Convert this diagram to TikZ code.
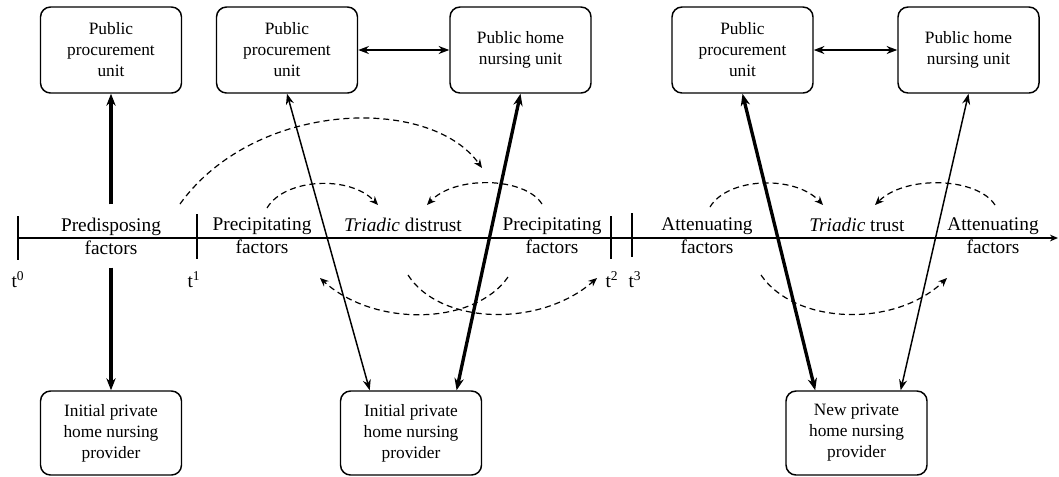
\documentclass[tikz,border=0pt]{standalone}
\usepackage{fontspec}
\setmainfont{Liberation Serif}
\usetikzlibrary{arrows.meta,calc}
\begin{document}
\begin{tikzpicture}[x=0.75pt,y=-0.75pt,
  box/.style={draw, line width=1.1pt, rounded corners=7.5pt, minimum width=105.75pt, minimum height=64.5pt, align=center, inner sep=1pt, font=\fontsize{13}{15.75}\selectfont},
  lowbox/.style={box, minimum height=63pt},
  lbl/.style={align=center, inner sep=0pt, font=\fontsize{14.5}{17.25}\selectfont},
  tlbl/.style={anchor=base, inner sep=0pt, font=\fontsize{14.5}{17.25}\selectfont},
  thinarrow/.style={line width=1.1pt, arrows={Stealth[length=8pt,width=6pt]-Stealth[length=8pt,width=6pt]}},
  thickarrow/.style={line width=2.5pt, arrows={Stealth[length=9pt,width=7pt]-Stealth[length=9pt,width=7pt]}},
  onearrow/.style={line width=2.5pt, arrows={-Stealth[length=9pt,width=7pt]}},
  dsh/.style={line width=0.9pt, dash pattern=on 4.5pt off 3pt, arrows={-Stealth[length=6.5pt,width=5.5pt]}},
  tick/.style={line width=1.1pt},
  axis/.style={line width=1.1pt, arrows={-Stealth[length=6pt,width=5pt]}}
]
\useasboundingbox (0,0) rectangle (1059,476);

% boxes
\node[box] (b1) at (111,50) {Public\\procurement\\unit};
\node[box] (b2) at (287,50) {Public\\procurement\\unit};
\node[box] (b3) at (520.5,50) {Public home\\nursing unit};
\node[box] (b4) at (742.5,50) {Public\\procurement\\unit};
\node[box] (b5) at (968.5,50) {Public home\\nursing unit};
\node[lowbox] (b6) at (111,433) {Initial private\\home nursing\\provider};
\node[lowbox] (b7) at (411,433) {Initial private\\home nursing\\provider};
\node[lowbox] (b8) at (856.5,433) {New private\\home nursing\\provider};

% time axis
\coordinate (ax0) at (18,238);
\coordinate (ax1) at (1058,238);
\draw[axis] (ax0) -- (ax1);
\coordinate (t0a) at (18,216); \coordinate (t0b) at (18,260);
\coordinate (t1a) at (197,214); \coordinate (t1b) at (197,259);
\coordinate (t2a) at (611,216); \coordinate (t2b) at (611,259);
\coordinate (t3a) at (632,213); \coordinate (t3b) at (632,257);
\draw[tick] (t0a) -- (t0b);
\draw[tick] (t1a) -- (t1b);
\draw[tick] (t2a) -- (t2b);
\draw[tick] (t3a) -- (t3b);
\node[tlbl] (t0) at (18,287) {t\textsuperscript{0}};
\node[tlbl] (t1) at (194,287) {t\textsuperscript{1}};
\node[tlbl] (t2) at (612,287) {t\textsuperscript{2}};
\node[tlbl] (t3) at (635,287) {t\textsuperscript{3}};

% axis labels
\node[lbl, inner ysep=9.75pt] (pred) at (111,236) {Predisposing\\factors};
\node[lbl] (prec1) at (262,236) {Precipitating\\factors};
\node[tlbl] (dist) at (403,231) {\textit{Triadic} distrust};
\node[lbl] (prec2) at (552,236) {Precipitating\\factors};
\node[lbl] (att1) at (707,236) {Attenuating\\factors};
\node[tlbl] (trust) at (857,231) {\textit{Triadic} trust};
\node[lbl] (att2) at (993,236) {Attenuating\\factors};

% solid connectors
\draw[onearrow] (pred.north) -- (b1.south);
\draw[onearrow] (pred.south) -- (b6.north);
\draw[thinarrow] (b2.east) -- (b3.west);
\draw[thinarrow] (b4.east) -- (b5.west);
\draw[thinarrow] (b2.south) -- ($(b7.north west)!0.21!(b7.north east)$);
\draw[thickarrow] (b3.south) -- ($(b7.north west)!0.82!(b7.north east)$);
\draw[thickarrow] (b4.south) -- ($(b8.north west)!0.21!(b8.north east)$);
\draw[thinarrow] (b5.south) -- ($(b8.north west)!0.81!(b8.north east)$);

% dashed influence arcs
\coordinate (d1s) at (180,204); \coordinate (d1e) at (482,168);
\draw[dsh] (d1s) .. controls (255,100) and (430,95) .. (d1e);
\coordinate (d2s) at (267,208); \coordinate (d2e) at (378,205);
\draw[dsh] (d2s) .. controls (285,178) and (350,175) .. (d2e);
\coordinate (d3s) at (542,204); \coordinate (d3e) at (427,205);
\draw[dsh] (d3s) .. controls (525,177) and (455,175) .. (d3e);
\coordinate (d4s) at (508,277); \coordinate (d4e) at (320,278);
\draw[dsh] (d4s) .. controls (475,325) and (375,328) .. (d4e);
\coordinate (d5s) at (408,275); \coordinate (d5e) at (597,278);
\draw[dsh] (d5s) .. controls (440,325) and (540,328) .. (d5e);
\coordinate (d6s) at (710,207); \coordinate (d6e) at (823,205);
\draw[dsh] (d6s) .. controls (728,177) and (795,175) .. (d6e);
\coordinate (d7s) at (995,205); \coordinate (d7e) at (875,205);
\draw[dsh] (d7s) .. controls (977,177) and (905,175) .. (d7e);
\coordinate (d8s) at (761,275); \coordinate (d8e) at (947,278);
\draw[dsh] (d8s) .. controls (795,325) and (895,328) .. (d8e);
\end{tikzpicture}
\end{document}
